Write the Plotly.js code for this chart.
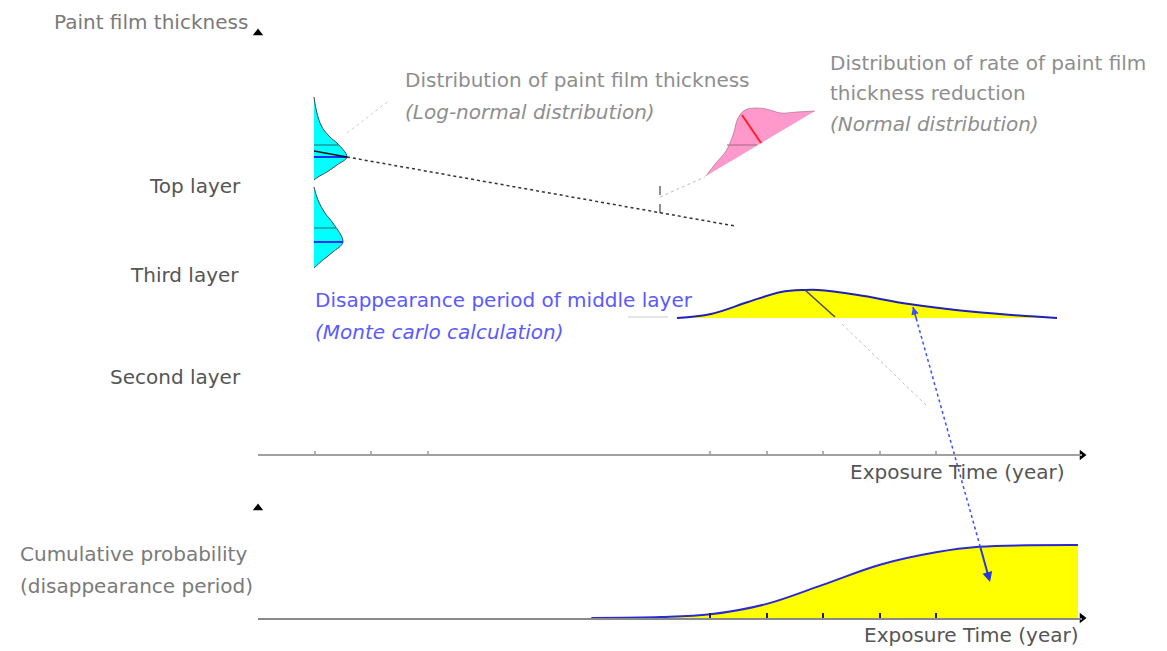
<!DOCTYPE html>
<html><head><meta charset="utf-8">
<script src="https://cdn.plot.ly/plotly-3.0.1.min.js"></script>
<style>html,body{margin:0;padding:0;background:#fff}#chart{width:1167px;height:651px}</style>
</head><body><div id="chart"></div>
<script>
// ---------- DATA ----------
// exposure time axis (years)
const timeRange = [0, 14.584];
const topTicks = [1, 2, 3, 8, 9, 10, 11, 12];
const bottomTicks = [8, 9, 10, 11, 12];
// thickness axis (arbitrary units), cumulative probability axis
const thicknessMax = 422;
const probMax = 1.507;

// Top layer paint film thickness distribution (log-normal): thickness vs density (in years of width)
const topLayerBase = 0.99;
const topLayerThickness = [358, 342, 328, 318, 312, 298, 290, 283, 278, 275];
const topLayerDensity   = [0, 0.053, 0.142, 0.283, 0.407, 0.584, 0.407, 0.230, 0.071, 0];
const topLayerMean = 298, topLayerMode = 310;

// Third layer paint film thickness distribution
const thirdLayerThickness = [268, 255, 242, 232, 213, 203, 195, 187];
const thirdLayerDensity   = [0, 0.071, 0.195, 0.336, 0.513, 0.336, 0.159, 0];
const thirdLayerMean = 213, thirdLayerMode = 227;

// Thickness reduction path (dotted), from top-layer peak
const reductionPathX = [1.575, 8.44];
const reductionPathY = [298, 229];

// Distribution of rate of paint film thickness reduction (normal, tilted)
const rateX = [7.929, 8.106, 8.283, 8.407, 8.496, 8.619, 8.796, 8.991, 9.257, 9.540, 9.858];
const rateY = [279, 292, 304, 320, 337, 345, 347, 346, 342, 343, 344];

// Disappearance period of middle layer (Monte Carlo), density
const middleX = [7.416, 8.018, 8.673, 9.257, 9.681, 9.912, 10.619, 11.522, 12.708, 14.142];
const middleY = [137, 141, 153, 163, 165, 165, 160, 151, 143, 137];
const middleBase = 138;

// Cumulative probability of disappearance period
const cumTime = [5.9, 7.13, 8.0, 8.99, 9.98, 11.01, 12.0, 12.76, 14.513];
const cumProb = [0, 0.012, 0.05, 0.19, 0.45, 0.73, 0.90, 0.975, 1.0];

// Labels
const labelThickness = 'Paint film thickness';
const labelThicknessDist = ['Distribution of paint film thickness', '(Log-normal distribution)'];
const labelRateDist = ['Distribution of rate of paint film', 'thickness reduction', '(Normal distribution)'];
const layerNames = ['Top layer', 'Third layer', 'Second layer'];
const labelMiddle = ['Disappearance period of middle layer', '(Monte carlo calculation)'];
const labelTime = 'Exposure Time (year)';
const labelCum = ['Cumulative probability', '(disappearance period)'];

// ---------- BUILD ----------
const W = 1167, H = 651;
const T = (px, py) => ({x: px / W, y: 1 - py / H});
const topTr = {xaxis: 'x2', yaxis: 'y', hoverinfo: 'skip', showlegend: false};
const botTr = {xaxis: 'x', yaxis: 'y2', hoverinfo: 'skip', showlegend: false};

function distShape(base, thick, dens) {
  return {x: dens.map(d => base + d), y: thick};
}
const topD = distShape(topLayerBase, topLayerThickness, topLayerDensity);
const thirdD = distShape(topLayerBase, thirdLayerThickness, thirdLayerDensity);
const topPeak = Math.max(...topLayerDensity) + topLayerBase;
const thirdPeak = Math.max(...thirdLayerDensity) + topLayerBase;

const traces = [
  Object.assign({x: topD.x, y: topD.y, mode: 'lines', fill: 'toself', fillcolor: '#00ffff',
    line: {color: '#3a4a50', width: 1, shape: 'spline'}}, topTr),
  Object.assign({x: thirdD.x, y: thirdD.y, mode: 'lines', fill: 'toself', fillcolor: '#00ffff',
    line: {color: '#3a4a50', width: 1, shape: 'spline'}}, topTr),
  // mode / mean lines
  Object.assign({x: [topLayerBase, topLayerBase + 0.44], y: [topLayerMode, topLayerMode], mode: 'lines', line: {color: '#2d6a6a', width: 1}}, topTr),
  Object.assign({x: [topLayerBase, topPeak], y: [topLayerMean, topLayerMean], mode: 'lines', line: {color: '#1530ff', width: 2}}, topTr),
  Object.assign({x: [topLayerBase, topPeak], y: [topLayerMean + 6, topLayerMean], mode: 'lines', line: {color: '#111', width: 1.5}}, topTr),
  Object.assign({x: [topLayerBase, topLayerBase + 0.39], y: [thirdLayerMode, thirdLayerMode], mode: 'lines', line: {color: '#2d6a6a', width: 1}}, topTr),
  Object.assign({x: [topLayerBase, thirdPeak], y: [thirdLayerMean, thirdLayerMean], mode: 'lines', line: {color: '#1530ff', width: 2}}, topTr),
  // faint leader to thickness label
  Object.assign({x: [1.575, 2.336], y: [322, 355], mode: 'lines', line: {color: '#cccccc', width: 1, dash: 'dot'}}, topTr),
  // thickness reduction path
  Object.assign({x: reductionPathX, y: reductionPathY, mode: 'lines', line: {color: '#333', width: 1.5, dash: 'dot'}}, topTr),
  Object.assign({x: [7.115, 7.115], y: [242, 270], mode: 'lines', line: {color: '#222', width: 1, dash: 'dash'}}, topTr),
  Object.assign({x: [7.115, 7.91], y: [258, 278], mode: 'lines', line: {color: '#bbbbbb', width: 1, dash: 'dot'}}, topTr),
  // rate distribution (pink)
  Object.assign({x: rateX, y: rateY, mode: 'lines', fill: 'toself', fillcolor: '#ff99cc',
    line: {color: 'rgba(150,90,120,0.55)', width: 1, shape: 'spline'}}, topTr),
  Object.assign({x: [8.30, 8.83], y: [310, 310], mode: 'lines', line: {color: '#9a6a80', width: 1}}, topTr),
  Object.assign({x: [8.566, 8.903], y: [340, 312], mode: 'lines', line: {color: '#ff2020', width: 2}}, topTr),
  // middle layer disappearance distribution (yellow)
  Object.assign({x: [6.549, 7.257], y: [middleBase, middleBase], mode: 'lines', line: {color: '#cccccc', width: 1}}, topTr),
  Object.assign({x: middleX, y: middleY, mode: 'lines', fill: 'toself', fillcolor: '#ffff00',
    line: {color: '#2020b8', width: 2, shape: 'spline'}}, topTr),
  Object.assign({x: [9.681, 10.212], y: [165, middleBase], mode: 'lines', line: {color: '#4a4a30', width: 1.5}}, topTr),
  Object.assign({x: [10.336, 11.841], y: [131, 49], mode: 'lines', line: {color: '#c0c0c0', width: 1, dash: 'dot'}}, topTr),
  // blue dotted link between panels
  Object.assign({x: [11.593, 12.779], y: [148, -91], mode: 'lines', line: {color: '#3a50ff', width: 1.5, dash: 'dot'}}, topTr),
  // cumulative probability
  Object.assign({x: cumTime, y: cumProb, mode: 'lines', fill: 'tozeroy', fillcolor: '#ffff00',
    line: {color: '#2a2ad0', width: 2, shape: 'spline', smoothing: 1}}, botTr),
  // axis arrowheads
  Object.assign({x: [timeRange[1], 0], y: [0, thicknessMax], mode: 'markers', cliponaxis: false,
    marker: {symbol: ['triangle-right', 'triangle-up'], size: 9, color: '#000'}}, topTr),
  Object.assign({x: [timeRange[1], 0], y: [0, probMax], mode: 'markers', cliponaxis: false,
    marker: {symbol: ['triangle-right', 'triangle-up'], size: 9, color: '#000'}}, botTr)
];

const xDom = [258 / W, 1082 / W];
const font = {family: 'DejaVu Sans', size: 20};
function lab(text, px, py, anchor, color) {
  const p = T(px, py);
  return {text: text, x: p.x, y: p.y, xref: 'paper', yref: 'paper', xanchor: anchor, yanchor: 'middle',
    showarrow: false, font: Object.assign({}, font, {color: color})};
}
const gray = '#7a7a7a', light = '#8e8e8e', dark = '#555', blue = '#5a5aff';
const annotations = [
  lab(labelThickness, 250, 22, 'right', gray),
  lab(labelThicknessDist[0], 403, 80, 'left', light),
  lab('<i>' + labelThicknessDist[1] + '</i>', 403, 112, 'left', light),
  lab(labelRateDist[0], 828, 63, 'left', light),
  lab(labelRateDist[1], 828, 93, 'left', light),
  lab('<i>' + labelRateDist[2] + '</i>', 828, 124, 'left', light),
  lab(layerNames[0], 243, 186, 'right', dark),
  lab(layerNames[1], 241, 275, 'right', dark),
  lab(layerNames[2], 243, 377, 'right', dark),
  lab(labelMiddle[0], 313, 300, 'left', blue),
  lab('<i>' + labelMiddle[1] + '</i>', 313, 332, 'left', blue),
  lab(labelTime, 1066, 472, 'right', dark),
  lab(labelCum[0], 18, 554, 'left', gray),
  lab(labelCum[1], 18, 586, 'left', gray),
  lab(labelTime, 1080, 635, 'right', dark),
  // arrow heads of the blue link
  {x: 11.593, y: 148, xref: 'x2', yref: 'y', text: '', showarrow: true, ax: 4, ay: 14,
    arrowhead: 2, arrowsize: 1, arrowwidth: 1.5, arrowcolor: '#3a50ff'},
  {x: 12.956, y: 0.493, xref: 'x', yref: 'y2', axref: 'x', ayref: 'y2', ax: 12.779, ay: 0.986,
    text: '', showarrow: true, arrowhead: 2, arrowsize: 1, arrowwidth: 2, arrowcolor: '#2a3ad8'}
];

const layout = {
  width: W, height: H,
  margin: {l: 0, r: 0, t: 0, b: 0},
  paper_bgcolor: '#fff', plot_bgcolor: 'rgba(0,0,0,0)',
  showlegend: false,
  xaxis: {domain: xDom, range: timeRange, anchor: 'y2', showgrid: false, zeroline: false,
    showline: true, linecolor: '#8a8a8a', linewidth: 2, ticks: 'inside', tickvals: bottomTicks,
    ticklen: 5, tickwidth: 2, tickcolor: '#222', showticklabels: false, fixedrange: true},
  xaxis2: {domain: xDom, range: timeRange, anchor: 'free', position: (H - 455) / H, overlaying: 'x',
    showgrid: false, zeroline: false, showline: true, linecolor: '#a0a0a0', linewidth: 2,
    ticks: 'inside', tickvals: topTicks, ticklen: 3, tickwidth: 2, tickcolor: '#b0b0b0',
    showticklabels: false, fixedrange: true},
  yaxis: {domain: [0, 1], range: [-(H - 455), 455], visible: false, fixedrange: true},
  yaxis2: {domain: [(H - 618) / H, (H - 508) / H], range: [0, probMax], visible: false, fixedrange: true},
  annotations: annotations
};

Plotly.newPlot('chart', traces, layout, {staticPlot: true, displayModeBar: false});
</script>
</body></html>
